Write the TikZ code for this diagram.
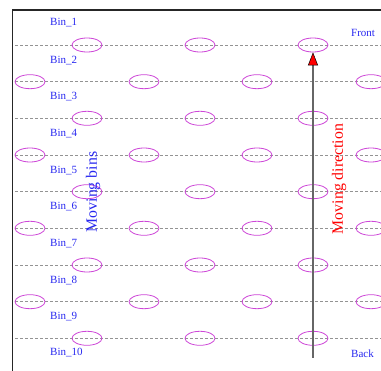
\documentclass[tikz,border=0pt]{standalone}
\usepackage{fontspec}
\setmainfont{Liberation Serif}
\usetikzlibrary{shapes.geometric,arrows.meta}
\definecolor{binblue}{RGB}{40,40,240}
\definecolor{ellcol}{RGB}{205,70,215}
\tikzset{
  binell/.style={draw=ellcol, line width=0.8pt, ellipse, minimum width=30pt, minimum height=14pt, inner sep=0pt},
  divline/.style={draw=gray!85, line width=0.6pt, dash pattern=on 3pt off 2pt},
  binlabel/.style={text=binblue, font=\fontsize{11}{12}\selectfont, anchor=west, inner sep=0pt},
  frameline/.style={draw=black!85, line width=1.4pt},
  bigtext/.style={font=\fontsize{15.8}{17}\selectfont, rotate=90, inner sep=0pt}
}
\begin{document}
\begin{tikzpicture}[x=1pt,y=-1pt]
\useasboundingbox (0,0) rectangle (381,371);
% frame
\coordinate (fb) at (12.5,371);
\coordinate (fc) at (12.5,10);
\coordinate (fr) at (381,10);
\draw[frameline] (fb) -- (fc) -- (fr);
% dividing lines and ellipses
\foreach \i/\y in {1/45,2/81.7,3/118.3,4/155,5/191.7,6/228.3,7/265,8/301.7,9/338.3}{
  \coordinate (l\i a) at (15,\y);
  \coordinate (l\i b) at (381,\y);
  \draw[divline] (l\i a) -- (l\i b);
}
\foreach \i/\y in {1/45,3/118.3,5/191.7,7/265,9/338.3}{
  \node[binell] (e\i a) at (87,\y) {};
  \node[binell] (e\i b) at (200,\y) {};
  \node[binell] (e\i c) at (313,\y) {};
}
\foreach \i/\y in {2/81.7,4/155,6/228.3,8/301.7}{
  \node[binell] (e\i a) at (30,\y) {};
  \node[binell] (e\i b) at (144,\y) {};
  \node[binell] (e\i c) at (257,\y) {};
  \node[binell] (e\i d) at (371,\y) {};
}
% bin labels
\foreach \n/\y in {1/23,2/61,3/97,4/134,5/171,6/207,7/244,8/281,9/317,10/353}{
  \node[binlabel] (bin\n) at (50,\y) {Bin\_\n};
}
\node[binlabel] (front) at (351,33) {Front};
\node[binlabel] (back) at (351,354) {Back};
% moving text
\node[bigtext, text=binblue] (mb) at (93,192) {Moving bins};
\node[bigtext, text=red] (md) at (339,179) {Moving direction};
% arrow
\coordinate (arrstart) at (313,358);
\draw[draw=black!60, line width=1.2pt, -{Triangle[width=10pt,length=13pt,fill=red,color=black,line width=0.5pt]}] (arrstart) -- (e1c.south);
\end{tikzpicture}
\end{document}
